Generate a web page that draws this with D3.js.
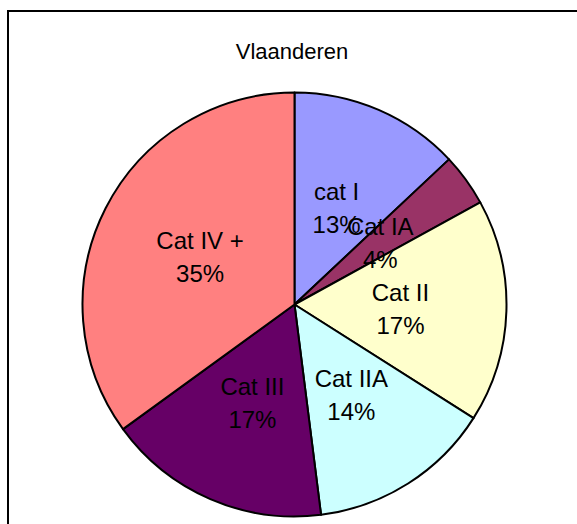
<!DOCTYPE html>
<html>
<head>
<meta charset="utf-8">
<style>
body { margin: 0; background: #fff; }
svg text { font-family: "Liberation Sans", Arial, sans-serif; fill: #000; }
</style>
</head>
<body>
<div id="container"></div>
<script src="https://cdn.jsdelivr.net/npm/d3@7"></script>
<script>
const width = 577, height = 524;

const title = "Vlaanderen";
const categories = ["cat I", "Cat IA", "Cat II", "Cat IIA", "Cat III", "Cat IV +"];
const values = [13, 4, 17, 14, 17, 35];
const colors = ["#9999FF", "#993366", "#FFFFCC", "#CCFFFF", "#660066", "#FF8080"];

const cx = 294.5, cy = 304.5, radius = 212;

const svg = d3.select("#container").append("svg")
    .attr("width", width).attr("height", height);

// chart frame (runs off the right and bottom edge)
svg.append("rect")
    .attr("x", 8).attr("y", 11)
    .attr("width", 700).attr("height", 700)
    .attr("fill", "none").attr("stroke", "#000").attr("stroke-width", 2);

svg.append("text")
    .attr("x", 292).attr("y", 59)
    .attr("text-anchor", "middle")
    .style("font-size", "22px")
    .text(title);

const data = categories.map((c, i) => ({name: c, value: values[i], color: colors[i]}));
const total = d3.sum(values);

const pie = d3.pie().value(d => d.value).sort(null);
const arc = d3.arc().innerRadius(0).outerRadius(radius);

const g = svg.append("g").attr("transform", `translate(${cx},${cy})`);

const arcs = pie(data);

g.selectAll("path.slice")
    .data(arcs)
    .enter().append("path")
    .attr("class", "slice")
    .attr("d", arc)
    .attr("fill", d => d.data.color)
    .attr("stroke", "#000")
    .attr("stroke-width", 2)
    .attr("stroke-linejoin", "round");

const labels = g.selectAll("text.lbl")
    .data(arcs)
    .enter().append("text")
    .attr("class", "lbl")
    .attr("text-anchor", "middle")
    .style("font-size", "24px")
    .attr("transform", d => {
        const c = arc.centroid(d);
        return `translate(${c[0]},${c[1]})`;
    });

labels.append("tspan")
    .attr("x", 0).attr("y", -7)
    .text(d => d.data.name);
labels.append("tspan")
    .attr("x", 0).attr("y", 26)
    .text(d => Math.round(d.data.value / total * 100) + "%");
</script>
</body>
</html>
